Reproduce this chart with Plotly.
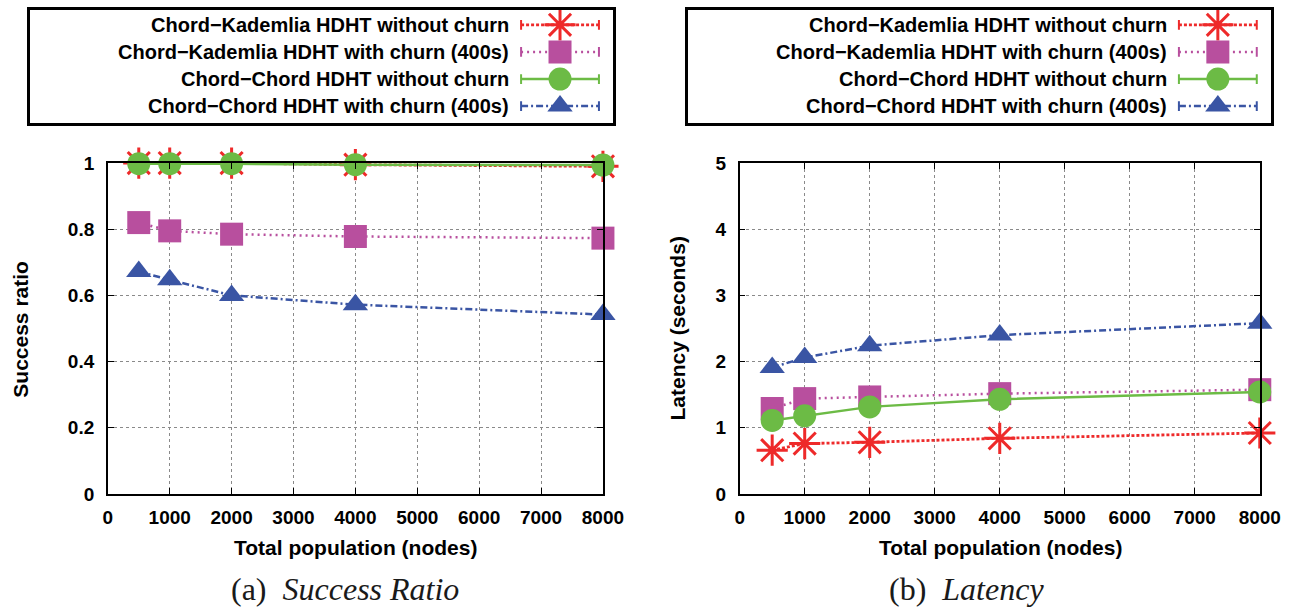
import plotly.graph_objects as go

# Network sizes simulated (total nodes)
population = [500, 1000, 2000, 4000, 8000]

series_names = [
    "Chord\u2212Kademlia HDHT without churn",
    "Chord\u2212Kademlia HDHT with churn (400s)",
    "Chord\u2212Chord HDHT without churn",
    "Chord\u2212Chord HDHT with churn (400s)",
]

# (a) lookup success ratio
success_kad_nochurn = [1.0, 1.0, 1.0, 0.995, 0.99]
success_kad_churn = [0.82, 0.795, 0.785, 0.778, 0.773]
success_chord_nochurn = [0.998, 0.998, 0.998, 0.995, 0.994]
success_chord_churn = [0.672, 0.647, 0.600, 0.572, 0.542]

# (b) lookup latency in seconds
latency_kad_nochurn = [0.66, 0.76, 0.78, 0.84, 0.92]
latency_kad_churn = [1.29, 1.44, 1.465, 1.515, 1.575]
latency_chord_nochurn = [1.11, 1.18, 1.315, 1.43, 1.54]
latency_chord_churn = [1.91, 2.06, 2.24, 2.40, 2.58]

x_ticks = [0, 1000, 2000, 3000, 4000, 5000, 6000, 7000, 8000]

success_series = [success_kad_nochurn, success_kad_churn,
                  success_chord_nochurn, success_chord_churn]
latency_series = [latency_kad_nochurn, latency_kad_churn,
                  latency_chord_nochurn, latency_chord_churn]

RED = "#ee2a2a"
MAGENTA = "#b84f9e"
GREEN = "#6cbb45"
BLUE = "#3a55a4"

styles = [
    dict(color=RED, dash="3px,2px", width=2.8, symbol="asterisk-open", size=26, mlw=3),
    dict(color=MAGENTA, dash="2px,4px", width=2.5, symbol="square", size=23, mlw=0),
    dict(color=GREEN, dash="solid", width=2.5, symbol="circle", size=23, mlw=0),
    dict(color=BLUE, dash="7px,3px,2px,3px", width=2.5, symbol="triangle-up", size=22, mlw=0),
]

# Page layout is expressed in target window pixels and converted to figure
# pixels (the page is shown with an offset and slightly reduced).
SX, OX = 0.982, 3.0
SY, OY = 0.971, 7.7
W = 1317
H = 621
BOLD = dict(family="Liberation Sans, Arial, sans-serif", color="black", weight="bold")


def px_x(p):
    return min(max(((p - OX) / SX) / W, 0.0), 1.0)


def px_y(p):
    return min(max(1 - ((p - OY) / SY) / H, 0.0), 1.0)


fig = go.Figure()


def add_series(values_list, xa, ya):
    for name, vals, st in zip(series_names, values_list, styles):
        mk = dict(symbol=st["symbol"], size=st["size"], color=st["color"],
                  line=dict(color=st["color"], width=st["mlw"]))
        fig.add_trace(go.Scatter(
            x=population, y=vals, name=name, mode="lines+markers",
            line=dict(color=st["color"], dash=st["dash"], width=st["width"]),
            marker=mk, xaxis=xa, yaxis=ya, showlegend=False,
            cliponaxis=False,
        ))


add_series(success_series, "x", "y")
add_series(latency_series, "x2", "y2")

KEY_TOP, KEY_BOTTOM = 7, 121


# Key boxes: sample line with end caps, a marker in the middle, label to the left.
# Key axes run in window pixels.
def add_key(xa, ya, left):
    for i, (name, st) in enumerate(zip(series_names, styles)):
        row = 22 + 27.4 * i
        fig.add_trace(go.Scatter(
            x=[left + 492, left + 570], y=[row, row], mode="lines+markers",
            line=dict(color=st["color"], dash=st["dash"], width=st["width"]),
            marker=dict(symbol="line-ns-open", size=7,
                        line=dict(color=st["color"], width=2)),
            xaxis=xa, yaxis=ya, showlegend=False, hoverinfo="skip",
        ))
        fig.add_trace(go.Scatter(
            x=[left + 531], y=[row], mode="markers",
            marker=dict(symbol=st["symbol"], size=st["size"], color=st["color"],
                        line=dict(color=st["color"], width=st["mlw"])),
            xaxis=xa, yaxis=ya, showlegend=False, hoverinfo="skip",
        ))
        fig.add_annotation(
            x=left + 482, y=row, xref=xa, yref=ya, text=name, showarrow=False,
            xanchor="right", yanchor="middle", font=dict(size=20, **BOLD),
        )


KEY_LEFT_A, KEY_LEFT_B, KEY_W = 28, 687, 584
add_key("x3", "y3", KEY_LEFT_A)
add_key("x4", "y4", KEY_LEFT_B)

plot_top, plot_bottom = 161.5, 494
common_axis = dict(
    showline=True, linecolor="black", linewidth=1.5, mirror="ticks",
    ticks="inside", ticklen=6, tickwidth=1, tickcolor="black",
    showgrid=True, gridcolor="#8a8a8a", griddash="dot", gridwidth=1,
    zeroline=False, tickfont=dict(size=19, **BOLD),
)
x_axis = dict(common_axis, ticklabelstandoff=6)
y_axis = dict(common_axis, ticklabelstandoff=8)

key_common = dict(showline=True, linecolor="black", linewidth=2.8, mirror=True,
                  showgrid=False, zeroline=False, showticklabels=False, ticks="")

fig.update_layout(
    width=W, height=H,
    margin=dict(l=0, r=0, t=0, b=0),
    paper_bgcolor="white", plot_bgcolor="white",
    showlegend=False,
    xaxis=dict(domain=[px_x(106), px_x(602)], range=[0, 8000], tickvals=x_ticks,
               anchor="y", **x_axis),
    yaxis=dict(domain=[px_y(plot_bottom), px_y(plot_top)], range=[0, 1],
               tickvals=[0, 0.2, 0.4, 0.6, 0.8, 1],
               ticktext=["0", "0.2", "0.4", "0.6", "0.8", "1"],
               anchor="x", **y_axis),
    xaxis2=dict(domain=[px_x(739), px_x(1260)], range=[0, 8000], tickvals=x_ticks,
                anchor="y2", **x_axis),
    yaxis2=dict(domain=[px_y(plot_bottom), px_y(plot_top)], range=[0, 5],
                tickvals=[0, 1, 2, 3, 4, 5], anchor="x2", **y_axis),
    xaxis3=dict(domain=[px_x(KEY_LEFT_A), px_x(KEY_LEFT_A + KEY_W)],
                range=[KEY_LEFT_A, KEY_LEFT_A + KEY_W], anchor="y3", **key_common),
    yaxis3=dict(domain=[px_y(KEY_BOTTOM), px_y(KEY_TOP)],
                range=[KEY_BOTTOM, KEY_TOP], anchor="x3", **key_common),
    xaxis4=dict(domain=[px_x(KEY_LEFT_B), px_x(KEY_LEFT_B + KEY_W)],
                range=[KEY_LEFT_B, KEY_LEFT_B + KEY_W], anchor="y4", **key_common),
    yaxis4=dict(domain=[px_y(KEY_BOTTOM), px_y(KEY_TOP)],
                range=[KEY_BOTTOM, KEY_TOP], anchor="x4", **key_common),
)

# Axis titles
title_font = dict(size=21, **BOLD)
for cx, txt in [(354.5, "Total population (nodes)"), (1000, "Total population (nodes)")]:
    fig.add_annotation(x=px_x(cx), y=px_y(548), xref="paper", yref="paper",
                       text=txt, showarrow=False, xanchor="center", yanchor="middle",
                       font=title_font)
for cx, txt in [(19, "Success ratio"), (677, "Latency (seconds)")]:
    fig.add_annotation(x=px_x(cx), y=px_y(328), xref="paper", yref="paper",
                       text=txt, showarrow=False, textangle=-90,
                       xanchor="center", yanchor="middle", font=title_font)

# Panel captions
caption_font = dict(family="Liberation Serif, Times New Roman, serif", size=32, color="#1a1a1a")
fig.add_annotation(x=px_x(344), y=px_y(590), xref="paper", yref="paper",
                   text="(a)&nbsp;&nbsp;<i>Success Ratio</i>", showarrow=False,
                   xanchor="center", yanchor="middle", font=caption_font)
fig.add_annotation(x=px_x(966), y=px_y(590), xref="paper", yref="paper",
                   text="(b)&nbsp;&nbsp;<i>Latency</i>", showarrow=False,
                   xanchor="center", yanchor="middle", font=caption_font)

fig.write_html("out.html")
